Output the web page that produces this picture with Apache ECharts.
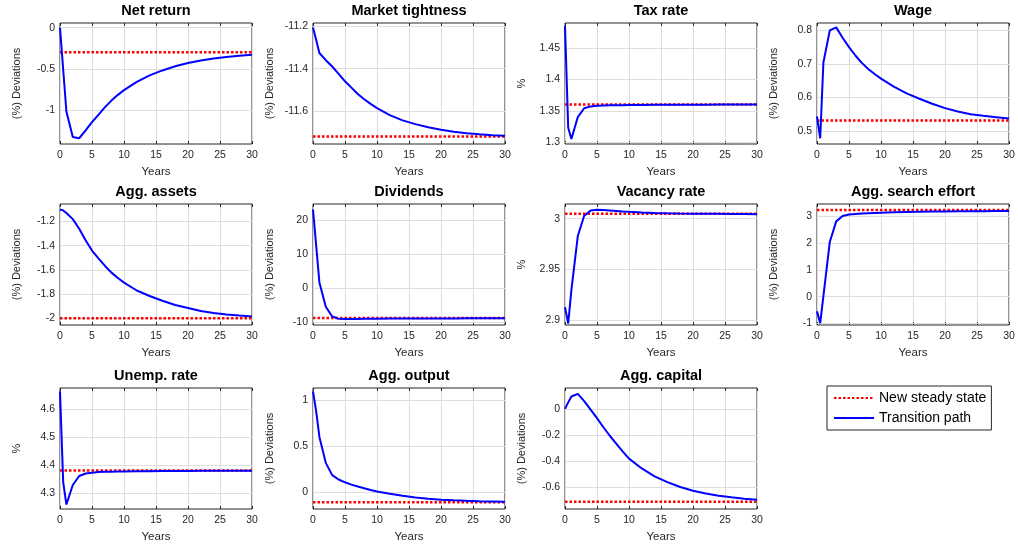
<!DOCTYPE html>
<html lang="en">

<head>
    <meta charset="UTF-8">
    <title>Transition paths</title>
    <style>
        * {
            padding: 0;
            margin: 0;
            box-sizing: border-box;
        }

        html,
        body {
            width: 100%;
            height: 100%;
            overflow: hidden;
            background: #fff;
        }

        #box {
            width: 1018px;
            height: 548px;
        }
    </style>
</head>

<body>
    <div id="box"></div>
</body>
<script src="https://cdn.jsdelivr.net/npm/echarts@6/dist/echarts.min.js"></script>
<script>
    var box = echarts.init(document.getElementById("box"));

    var years = [0, 0.5, 1, 2, 3, 4, 5, 6, 7, 8, 9, 10, 12, 14, 16, 18, 20, 22, 24, 26, 28, 30];

    var titles = ['Net return', 'Market tightness', 'Tax rate', 'Wage',
        'Agg. assets', 'Dividends', 'Vacancy rate', 'Agg. search effort',
        'Unemp. rate', 'Agg. output', 'Agg. capital'];
    var yNames = ['(%) Deviations', '(%) Deviations', '%', '(%) Deviations',
        '(%) Deviations', '(%) Deviations', '%', '(%) Deviations',
        '%', '(%) Deviations', '(%) Deviations'];

    // transition paths, one value per entry of years
    var netReturn = [0, -0.51, -1.02, -1.33, -1.345, -1.25, -1.15, -1.06, -0.97, -0.89, -0.82, -0.76, -0.66, -0.58, -0.52, -0.47, -0.43, -0.40, -0.375, -0.357, -0.342, -0.33];
    var marketTightness = [-11.205, -11.265, -11.326, -11.36, -11.39, -11.425, -11.46, -11.49, -11.52, -11.545, -11.567, -11.587, -11.62, -11.645, -11.663, -11.678, -11.69, -11.699, -11.706, -11.711, -11.715, -11.718];
    var taxRate = [1.485, 1.323, 1.305, 1.34, 1.354, 1.357, 1.358, 1.3585, 1.359, 1.359, 1.359, 1.3592, 1.3594, 1.3595, 1.3596, 1.3597, 1.3598, 1.3598, 1.3599, 1.3599, 1.36, 1.36];
    var wage = [0.543, 0.478, 0.704, 0.80, 0.809, 0.778, 0.75, 0.725, 0.703, 0.685, 0.67, 0.656, 0.632, 0.612, 0.596, 0.581, 0.568, 0.558, 0.55, 0.545, 0.541, 0.537];
    var aggAssets = [-1.10, -1.108, -1.13, -1.18, -1.26, -1.355, -1.44, -1.505, -1.565, -1.62, -1.665, -1.705, -1.77, -1.815, -1.855, -1.89, -1.915, -1.94, -1.955, -1.968, -1.977, -1.985];
    var dividends = [23.3, 12.5, 1.7, -5.5, -8.4, -9.05, -9.1, -9.1, -9.1, -9.05, -9.05, -9.05, -9.0, -9.0, -9.0, -8.95, -8.95, -8.95, -8.9, -8.9, -8.9, -8.9];
    var vacancyRate = [2.913, 2.897, 2.93, 2.983, 3.003, 3.008, 3.0088, 3.0087, 3.0082, 3.0077, 3.0072, 3.0068, 3.0061, 3.0056, 3.0053, 3.0051, 3.005, 3.0049, 3.0048, 3.0047, 3.0046, 3.0045];
    var searchEffort = [-0.55, -0.99, 0.02, 2.05, 2.82, 3.02, 3.08, 3.10, 3.115, 3.125, 3.135, 3.145, 3.16, 3.17, 3.178, 3.185, 3.19, 3.195, 3.20, 3.203, 3.206, 3.21];
    var unempRate = [4.665, 4.34, 4.26, 4.33, 4.362, 4.371, 4.374, 4.376, 4.377, 4.3775, 4.378, 4.378, 4.379, 4.379, 4.38, 4.38, 4.38, 4.381, 4.381, 4.381, 4.381, 4.381];
    var aggOutput = [1.097, 0.88, 0.603, 0.321, 0.188, 0.14, 0.11, 0.085, 0.064, 0.045, 0.027, 0.01, -0.015, -0.037, -0.055, -0.068, -0.079, -0.086, -0.091, -0.095, -0.098, -0.101];
    var aggCapital = [0, 0.05, 0.095, 0.115, 0.06, -0.005, -0.07, -0.14, -0.205, -0.265, -0.325, -0.38, -0.455, -0.515, -0.56, -0.597, -0.625, -0.647, -0.663, -0.676, -0.686, -0.694];
    var paths = [netReturn, marketTightness, taxRate, wage, aggAssets, dividends,
        vacancyRate, searchEffort, unempRate, aggOutput, aggCapital];

    // new steady state level of each variable
    var steadyState = [-0.30, -11.722, 1.36, 0.531, -2.0, -8.85, 3.005, 3.25, 4.382, -0.108, -0.709];

    // y tick labels and y limits
    var yTicks = [
        [-1, -0.5, 0],
        [-11.6, -11.4, -11.2],
        [1.3, 1.35, 1.4, 1.45],
        [0.5, 0.6, 0.7, 0.8],
        [-2, -1.8, -1.6, -1.4, -1.2],
        [-10, 0, 10, 20],
        [2.9, 2.95, 3],
        [-1, 0, 1, 2, 3],
        [4.3, 4.4, 4.5, 4.6],
        [0, 0.5, 1],
        [-0.6, -0.4, -0.2, 0]
    ];
    var yLimits = [
        [-1.415, 0.057],
        [-11.757, -11.184],
        [1.297, 1.49],
        [0.461, 0.822],
        [-2.055, -1.055],
        [-10.9, 24.9],
        [2.8955, 3.0145],
        [-1.06, 3.47],
        [4.244, 4.677],
        [-0.18, 1.134],
        [-0.765, 0.16]
    ];

    var colLeft = [60, 313, 565, 817];
    var rowTop = [23, 204, 388];
    var plotW = 192, plotH = 121;
    var ink = '#262626';
    var gridColor = '#dedede';

    var grids = [], xAxes = [], yAxes = [], series = [];

    for (var i = 0; i < titles.length; i++) {
        var col = i % 4, row = Math.floor(i / 4);
        grids.push({
            left: colLeft[col], top: rowTop[row], width: plotW, height: plotH,
            show: true, borderColor: ink, borderWidth: 1, backgroundColor: '#fff'
        });

        // bottom x axis
        xAxes.push({
            gridIndex: i, type: 'value', position: 'bottom', min: 0, max: 30, interval: 5,
            axisLine: { show: false, onZero: false },
            axisTick: { show: true, inside: true, length: 3, lineStyle: { color: ink } },
            axisLabel: { fontSize: 10.5, color: ink, margin: 6 },
            splitLine: { show: true, lineStyle: { color: gridColor, width: 1 } },
            name: 'Years', nameLocation: 'middle', nameGap: 22,
            nameTextStyle: { fontSize: 11.5, color: ink }
        });
        // top x axis carries the panel title
        xAxes.push({
            gridIndex: i, type: 'value', position: 'top', min: 0, max: 30, interval: 5,
            axisLine: { show: false, onZero: false },
            axisTick: { show: true, inside: true, length: 3, lineStyle: { color: ink } },
            axisLabel: { show: false },
            splitLine: { show: false },
            name: titles[i], nameLocation: 'middle', nameGap: 5,
            nameTextStyle: { fontSize: 14.5, fontWeight: 'bold', color: '#000' }
        });

        yAxes.push({
            gridIndex: i, type: 'value', position: 'left', min: yLimits[i][0], max: yLimits[i][1],
            axisLine: { show: false, onZero: false },
            axisTick: { show: true, inside: true, length: 3, customValues: yTicks[i], lineStyle: { color: ink } },
            axisLabel: { fontSize: 10.5, color: ink, margin: 5, customValues: yTicks[i] },
            splitLine: { show: false },
            name: yNames[i], nameLocation: 'middle', nameGap: 38, nameRotate: 90,
            nameTextStyle: { fontSize: 11, color: ink }
        });
        yAxes.push({
            gridIndex: i, type: 'value', position: 'right', min: yLimits[i][0], max: yLimits[i][1],
            axisLine: { show: false, onZero: false },
            axisTick: { show: true, inside: true, length: 3, customValues: yTicks[i], lineStyle: { color: ink } },
            axisLabel: { show: false },
            splitLine: { show: false }
        });

        // horizontal grid lines at the y ticks, kept under the curves
        series.push({
            type: 'line', xAxisIndex: 2 * i, yAxisIndex: 2 * i, data: [],
            silent: true, z: 1,
            markLine: {
                silent: true, symbol: 'none', label: { show: false }, z: 1,
                lineStyle: { color: gridColor, width: 1, type: 'solid' },
                data: yTicks[i].map(function (v) { return { yAxis: v }; })
            }
        });
        series.push({
            name: 'New steady state', type: 'line', xAxisIndex: 2 * i, yAxisIndex: 2 * i,
            symbol: 'none', silent: true, z: 3,
            lineStyle: { color: '#ff0000', width: 2.5, type: [2.5, 2] },
            itemStyle: { color: '#ff0000' },
            data: [[0, steadyState[i]], [30, steadyState[i]]]
        });
        series.push({
            name: 'Transition path', type: 'line', xAxisIndex: 2 * i, yAxisIndex: 2 * i,
            symbol: 'none', silent: true, z: 4,
            lineStyle: { color: '#0000ff', width: 2 },
            itemStyle: { color: '#0000ff' },
            data: years.map(function (x, k) { return [x, paths[i][k]]; })
        });
    }

    var option = {
        animation: false,
        backgroundColor: '#fff',
        textStyle: { fontFamily: 'Liberation Sans, Arial, Helvetica, sans-serif' },
        legend: {
            data: ['New steady state', 'Transition path'],
            orient: 'vertical', left: 827, top: 386,
            itemWidth: 40, itemHeight: 14, itemGap: 6,
            padding: [5, 5, 5, 6],
            borderColor: ink, borderWidth: 1, backgroundColor: '#fff',
            selectedMode: false,
            itemStyle: { opacity: 0 },
            textStyle: { fontSize: 14, color: '#000' }
        },
        grid: grids,
        xAxis: xAxes,
        yAxis: yAxes,
        series: series
    };
    box.setOption(option);
</script>

</html>
